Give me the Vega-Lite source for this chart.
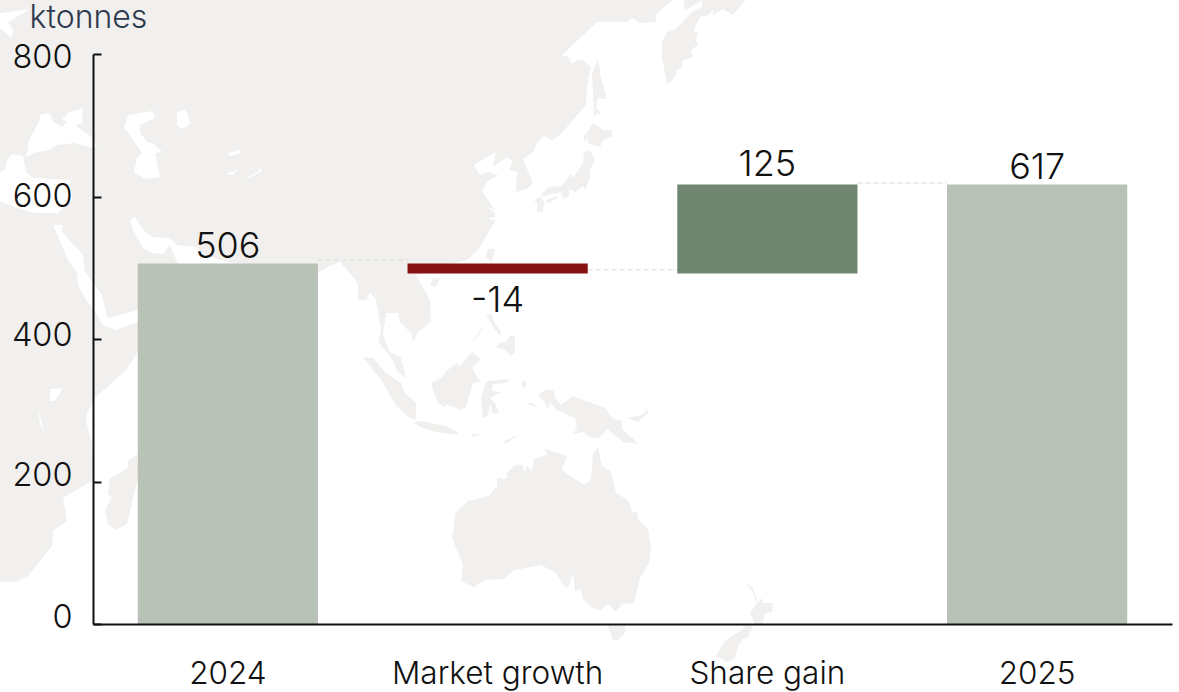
{"$schema":"https://vega.github.io/schema/vega-lite/v6.json","width":1079,"height":570,"autosize":"none","padding":{"left":93,"top":54,"right":7,"bottom":68},"background":"#ffffff","config":{"view":{"stroke":null},"font":"Inter"},
"resolve":{"scale":{"fill":"independent"}},
"layer":[
{"data":{"values":{"type":"FeatureCollection","features":[
{"type":"Feature","properties":{"kind":"land"},"geometry":{"type":"MultiPolygon","coordinates":[
[[[19,81],[154.6,81],[154.6,80],[151,77],[151.4,75.6],[148,75.4],[146.4,76.4],[145.4,75.6],[139.4,75.6],[132.4,69],[133.6,68.6],[134.4,67.2],[135.6,68],[136.6,68],[138.2,66.6],[137.4,63],[137.2,59],[132,53],[130.4,52],[128.8,52.8],[127.4,51.4],[126.6,49.6],[124.6,48.2],[126.6,43.4],[125.4,42.2],[123.2,41.6],[123.4,45.6],[121.8,46],[122.6,47.8],[121.4,48.4],[118.6,46.8],[119.2,49.6],[114.8,47],[116,45],[117.6,45.6],[119.6,45],[117.4,43.6],[116.4,41.8],[119,38],[117.4,38.6],[119,37.4],[119,36.6],[117.4,36.2],[119.2,36],[115.6,30],[113.4,28],[111,27.4],[108,26],[103.2,25],[106,20],[106.2,15.6],[103.6,13.6],[102.6,11.6],[102.2,13.4],[101.6,14],[100,15.6],[99.6,17.4],[97.2,17.4],[96.6,13],[98,9.6],[100.2,8.4],[101.2,4.4],[99.6,5.6],[98.2,8.6],[95.6,11.6],[96.2,14],[95.2,20],[94,21.6],[93.2,20],[91.6,20],[91.6,23.4],[89.4,26],[88,27.6],[85.6,26.6],[83.6,25.4],[77,14],[70,1],[65.6,10],[65,22],[66.6,27.4],[62,28.6],[59,30.6],[55.4,31],[54,32.4],[50.4,32.6],[48.6,34],[47,36.6],[46,36],[46.6,34],[48.6,30.4],[50.6,29.4],[52.6,29.2],[54,31],[55.6,27.2],[54,22],[47.6,18],[41.4,16.4],[40.4,21],[37,25.6],[36.6,29],[32.4,33.6],[32.6,35],[30.6,35],[33.6,28],[35.4,25.6],[35.6,23],[37.6,19.4],[38.6,18.4],[40.6,15],[43,14],[47.6,15.6],[50,14],[47.4,9.4],[45.4,6.2],[39,0.4],[37.4,-2.6],[37.2,-4.2],[38.4,-8.6],[39,-15.8],[32.6,-19.6],[33.4,-24.2],[30.6,-26.2],[30.4,-29.2],[25.6,-35.2],[23,-36.4],[19,-36.4],[19,81]]],
[[[156.6,81],[157,78],[160,79.6],[160.4,81],[156.6,81]]],
[[[160.4,81],[160.4,78.6],[158.4,77.6],[155,74],[153.4,73.6],[152.4,71.6],[152.4,68.6],[153.4,63],[155,64.6],[155.4,66.2],[156.4,66.4],[156.4,67.8],[158.6,68.6],[158.2,70],[159.6,71],[159.2,72],[159.6,73.4],[158.6,73.8],[160,76.6],[161.6,77],[162.6,78],[162.6,77],[164.6,78.2],[166.6,77],[170,81],[160.4,81]]],
[[[139.6,68.2],[140.2,64.4],[141.4,60.2],[139.6,60.4],[139.2,58.6],[140.4,57],[139.4,57.4],[138.8,56.4],[138.6,60.6],[138.4,65.4],[139.6,68.2]]],
[[[138.6,55.4],[140.6,54],[142.4,54],[142.4,52.6],[140.6,52],[140,50.6],[137.4,51.4],[137.8,52.4],[137,52],[137,50.6],[136.8,52.8],[137.8,54],[138.6,55.4]]],
[[[138,50],[139,48],[138,46],[138,44.4],[137,42],[136.6,42.8],[135,41.6],[133.8,42.2],[133.8,40.6],[132.6,40.4],[132.2,41.6],[128,40.6],[129.6,42.6],[132.4,42.8],[134,45.2],[134.6,44.4],[136.6,47.4],[136.8,49.6],[138,50]]],
[[[126.8,40],[128,40.6],[129,39.6],[128.4,37.6],[127.4,37.6],[127.4,39.4],[126.8,40]]],
[[[129.2,40],[131.4,40.8],[131.4,40.2],[129.6,39.4],[129.2,40]]],
[[[117.6,30.2],[119,30.2],[118.4,27.4],[117.2,28.6],[117.6,30.2]]],
[[[106.6,24.4],[108,24.2],[107,22.6],[106,23],[106.6,24.4]]],
[[[117.2,17.2],[118.4,17],[119,15.2],[120,14],[120.4,12.6],[119.6,13.4],[118.8,14.4],[117.2,17.2]]],
[[[116.6,14.6],[114.4,11.8],[115,12],[116.2,13.6],[116.6,14.6]]],
[[[122,13],[123,12.6],[123,9.6],[122.2,8.8],[121,10],[119.2,10.6],[120.2,11.6],[121.2,11.6],[122,13]]],
[[[106.2,3.4],[108.6,4.6],[109,5.6],[111.4,7.4],[112,6.8],[114.4,9.6],[116.2,8.2],[114.4,6.4],[116,3.6],[114.6,3.4],[113.2,-1.4],[112.2,-2],[109.2,-0.8],[109,-1.4],[107.6,-0.6],[106.6,2],[106.2,3.4]]],
[[[117.4,3.8],[122,4.2],[121,3.4],[118.6,3.2],[118.4,1.8],[120.4,1.6],[118,0.4],[119,-0.6],[119.8,-2.4],[118.6,-2.8],[118,-0.6],[117.6,-3.2],[116.6,-3.6],[116.2,0.2],[117,3.2],[117.4,3.8]]],
[[[92.6,8.6],[94.6,8.4],[97,5.6],[100.2,3.4],[101,1.4],[103.2,-0.6],[103.2,-4],[101.6,-3.4],[99.2,-1],[96.2,4],[92.6,8.6]]],
[[[102.8,-4.4],[104,-4.2],[109.2,-5.2],[111.6,-6.4],[111.6,-7],[107,-6.4],[104,-5.4],[102.8,-4.4]]],
[[[114.2,-6.8],[116.2,-6.8],[114.6,-7.4],[114.2,-6.8]]],
[[[120.8,-8.2],[124,-6.8],[121,-8.8],[120.8,-8.2]]],
[[[124.6,4.2],[125.4,3.2],[124.8,2.2],[125.4,1.8],[124.4,2.8],[124.6,4.2]]],
[[[125,-0.6],[126.6,-0.6],[127.6,-1.6],[125,-0.6]]],
[[[127.6,1],[129.4,2.2],[130.8,1.8],[131,0.4],[132.2,-1],[134.6,0.8],[141,-1.6],[142.6,-3.8],[144.4,-4.2],[144.4,-5.8],[147.8,-8.8],[144.6,-8.4],[141.4,-5.8],[139.8,-7.6],[138.4,-7.6],[136.6,-6.4],[134.6,-6.8],[135.4,-5.6],[135,-3.6],[131.4,-2],[130,-0.6],[129.6,-1.8],[128.8,-0.2],[127.6,1]]],
[[[145.4,-3.6],[148.4,-3],[149.4,-1.8],[149.6,-2.6],[147.6,-4.4],[145.4,-3.6]]],
[[[110.6,-26.8],[111,-22.6],[113.6,-20.2],[117.8,-19.2],[119.4,-17.2],[119.4,-15.8],[120,-15.6],[120.4,-15.8],[121.4,-15.6],[121.4,-14.6],[123,-13],[124.6,-13],[124.8,-14.6],[125.4,-13.2],[126.4,-14.2],[126.8,-11.8],[129.4,-11],[129,-9.8],[133.4,-11.2],[132.4,-14],[136.8,-17],[138.2,-15.8],[138.6,-10.8],[139.6,-9.4],[140.4,-13.2],[142.2,-14.2],[143.2,-18.6],[145.6,-20],[146.6,-22.6],[147.4,-22.4],[147.6,-23.8],[149.6,-25.8],[150.2,-29.6],[149.8,-32.6],[148,-35.6],[146.8,-40.6],[144.4,-40.8],[143.2,-42.4],[141.6,-40.8],[140.2,-42],[138.4,-41.6],[136.6,-39.8],[136.2,-37.8],[135,-38.2],[134.6,-34.6],[133.6,-37.6],[132.8,-37.2],[131.2,-34.6],[128.2,-33],[123,-34],[120.6,-35.8],[117,-36],[114.8,-37.4],[112.2,-36.2],[112.6,-33],[110.2,-27],[110.6,-26.8]]],
[[[141.4,-44.8],[145,-45.2],[145,-46.6],[143.4,-48.2],[142.6,-48],[141.4,-44.8]]],
[[[169.2,-36.6],[170.6,-37.6],[171.6,-40.6],[172.2,-39.6],[172.6,-40.6],[174.6,-40.6],[174.4,-42.4],[173,-42.6],[172.4,-45.2],[171,-44.8],[170,-42.6],[171.4,-40.6],[170.4,-38.2],[169.2,-36.6]]],
[[[170.6,-45.2],[169.4,-47.6],[168.6,-47.8],[167.6,-49.2],[167,-51.6],[165.4,-52.4],[163.2,-51.2],[165,-48.2],[168,-46.2],[169.4,-45],[170.6,-45.2]]],
[[[47.4,-10.8],[45.6,-12.2],[45.6,-13.6],[43.6,-14.8],[42,-15.6],[41.6,-18.6],[42.4,-19.6],[41,-21.8],[41.6,-24.8],[43,-26],[45.4,-24.8],[47.8,-14.8],[47.4,-10.8]]]
]}},
{"type":"Feature","properties":{"kind":"water"},"geometry":{"type":"MultiPolygon","coordinates":[
[[[19,77.2],[26,78.2],[21.6,75.6],[22.6,74],[22.4,72.4],[20,74.4],[19,75],[19,77.2]]],
[[[25.6,51.6],[28,56],[28,57],[30,57.4],[30.6,55.6],[32.4,54.6],[33.4,55.6],[32,56.4],[33,56.6],[33.6,57.4],[36.6,58.4],[36.4,55.4],[35,55],[38.6,52.4],[39.4,50.6],[38.6,50.4],[35,51.4],[31.4,51],[30,50],[27.4,49.6],[25,48.6],[25.6,50],[25.6,51.6]]],
[[[19,45],[21,46],[21.4,48],[22.4,49.2],[24.6,48.8],[25.2,45.6],[26.6,44.4],[34,44],[34.4,40],[31.6,37.4],[26.6,37.4],[19,40],[19,45]]],
[[[44.8,54.4],[45.6,57],[50.6,57.8],[51,56.4],[48,55],[48,53.4],[49.6,51.4],[50.6,51.4],[52.4,49.6],[51,49.4],[52,44.6],[49,44.2],[46.8,45.6],[47.4,48.4],[48.4,49.4],[47,51.4],[45.6,53.6],[44.8,54.4]]],
[[[55.4,57.4],[57,58.2],[58.2,55.4],[56.6,54.2],[55.4,55],[55.4,57.4]]],
[[[65.6,49.4],[68,50],[68,49.4],[66,48.8],[65.6,49.4]]],
[[[65.2,45.2],[67.4,46],[68.2,46.8],[66.6,45],[65.2,45.2]]],
[[[69.4,44.6],[71.6,45.6],[72.2,46.6],[72.2,45.6],[69.6,44.4],[69.4,44.6]]],
[[[30,2.2],[32.6,2.4],[31,-0.2],[30,-0.2],[30,2.2]]],
[[[27.6,-1.6],[28,-4.8],[29,-6.6],[28.4,-4.8],[27.6,-1.6]]]
]}}
]},"format":{"type":"json","property":"features"}},
"mark":{"type":"geoshape","clip":false,"strokeWidth":0},
"projection":{"type":"identity","reflectY":true,"scale":5,"translate":[-193,346]},
"encoding":{"fill":{"field":"properties.kind","type":"nominal","scale":{"domain":["land","water"],"range":["#f1f0ee","#ffffff"]},"legend":null}}},
{"data":{"values":[{"from":"2024","to":"Market growth","level":511},{"from":"Market growth","to":"Share gain","level":497},{"from":"Share gain","to":"2025","level":619}]},
"mark":{"type":"rule","color":"#d9d9d9","strokeWidth":1,"strokeDash":[5,3]},
"encoding":{"x":{"field":"from","type":"nominal","bandPosition":1,"title":null,"scale":{"domain":["2024","Market growth","Share gain","2025"],"paddingInner":0.332,"paddingOuter":0.166},"axis":{"zindex":1,"domainColor":"#111111","domainWidth":2,"ticks":false,"labelAngle":0,"labelFontSize":31.5,"labelFontWeight":300,"labelColor":"#111111","labelPadding":50,"labelBaseline":"middle","labelLimit":400,"grid":false}},"x2":{"field":"to","bandPosition":0},
"y":{"field":"level","type":"quantitative","title":"ktonnes","scale":{"domain":[0,800]},"axis":{"zindex":1,"values":[0,200,400,600,800],"domainColor":"#111111","domainWidth":2,"tickColor":"#111111","tickWidth":2,"tickSize":-8,"grid":false,"labelFontSize":32.5,"labelFontWeight":300,"labelColor":"#111111","labelPadding":29,"titleAngle":0,"titleAlign":"left","titleBaseline":"alphabetic","titleX":-64,"titleY":-27,"titleFontSize":32,"titleFontWeight":300,"titleColor":"#2e3a4e","labelOffset":{"condition":[{"test":"datum.value==800","value":3},{"test":"datum.value==600","value":0},{"test":"datum.value==400","value":-4},{"test":"datum.value==200","value":-6}],"value":-7}}}}},
{"data":{"values":[{"step":"2024","start":0,"end":506,"kind":"total"},{"step":"Market growth","start":506,"end":492,"kind":"down"},{"step":"Share gain","start":492,"end":617,"kind":"up"},{"step":"2025","start":0,"end":617,"kind":"total"}]},
"mark":{"type":"bar"},
"encoding":{"x":{"field":"step","type":"nominal","title":null,"scale":{"domain":["2024","Market growth","Share gain","2025"],"paddingInner":0.332,"paddingOuter":0.166}},
"y":{"field":"start","type":"quantitative","title":"ktonnes"},
"y2":{"field":"end"},
"fill":{"field":"kind","type":"nominal","scale":{"domain":["total","down","up"],"range":["#b8c2b7","#861312","#708671"]},"legend":null}}},
{"data":{"values":[{"step":"2024","top":506,"label":"506"},{"step":"2025","top":617,"label":"617"}]},
"mark":{"type":"text","fontSize":36,"fontWeight":300,"color":"#111111","baseline":"alphabetic","dy":-5},
"encoding":{"x":{"field":"step","type":"nominal","title":null},"y":{"field":"top","type":"quantitative","title":"ktonnes"},"text":{"field":"label"}}},
{"data":{"values":[{"step":"Share gain","top":617,"label":"125"}]},
"mark":{"type":"text","fontSize":36,"fontWeight":300,"color":"#111111","baseline":"alphabetic","dy":-8},
"encoding":{"x":{"field":"step","type":"nominal","title":null},"y":{"field":"top","type":"quantitative","title":"ktonnes"},"text":{"field":"label"}}},
{"data":{"values":[{"step":"Market growth","top":492,"label":"-14"}]},
"mark":{"type":"text","fontSize":36,"fontWeight":300,"color":"#111111","baseline":"alphabetic","dy":39},
"encoding":{"x":{"field":"step","type":"nominal","title":null},"y":{"field":"top","type":"quantitative","title":"ktonnes"},"text":{"field":"label"}}}
]}
